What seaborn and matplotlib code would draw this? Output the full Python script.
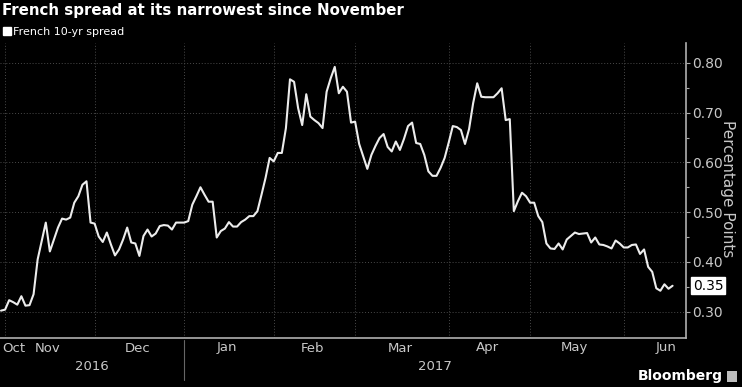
import numpy as np
import pandas as pd
import matplotlib
matplotlib.use("Agg")
import matplotlib.pyplot as plt
import seaborn as sns
from matplotlib.lines import Line2D
from matplotlib.patches import Rectangle
from matplotlib.transforms import blended_transform_factory

# ---------------- data ----------------
start_date = "2016-10-31"
spread = [
    0.302, 0.304, 0.323, 0.319, 0.314, 0.331, 0.312, 0.313, 0.335, 0.405,
    0.442, 0.479, 0.421, 0.445, 0.469, 0.487, 0.485, 0.489, 0.519, 0.532,
    0.555, 0.562, 0.479, 0.477, 0.451, 0.440, 0.459, 0.435, 0.413, 0.425,
    0.445, 0.469, 0.439, 0.437, 0.412, 0.452, 0.465, 0.451, 0.457, 0.472,
    0.474, 0.473, 0.465, 0.479, 0.479, 0.479, 0.482, 0.515, 0.532, 0.550,
    0.535, 0.521, 0.521, 0.449, 0.462, 0.467, 0.480, 0.471, 0.471, 0.480,
    0.485, 0.492, 0.492, 0.502, 0.535, 0.569, 0.609, 0.602, 0.619, 0.619,
    0.669, 0.767, 0.762, 0.709, 0.675, 0.737, 0.692, 0.685, 0.679, 0.669,
    0.742, 0.769, 0.792, 0.739, 0.752, 0.742, 0.680, 0.682, 0.637, 0.612,
    0.587, 0.615, 0.633, 0.649, 0.657, 0.631, 0.622, 0.642, 0.625, 0.647,
    0.673, 0.680, 0.639, 0.637, 0.615, 0.582, 0.573, 0.573, 0.589, 0.609,
    0.640, 0.673, 0.671, 0.665, 0.637, 0.667, 0.719, 0.759, 0.732, 0.731,
    0.731, 0.731, 0.739, 0.749, 0.685, 0.687, 0.502, 0.522, 0.539, 0.532,
    0.519, 0.519, 0.492, 0.480, 0.437, 0.427, 0.426, 0.437, 0.425, 0.445,
    0.452, 0.459, 0.456, 0.457, 0.458, 0.439, 0.449, 0.435, 0.434, 0.431,
    0.427, 0.443, 0.437, 0.429, 0.429, 0.434, 0.435, 0.416, 0.425, 0.390,
    0.380, 0.347, 0.342, 0.355, 0.346, 0.352,
]
month_starts = ["2016-11-01", "2016-12-01", "2017-01-01", "2017-02-01",
                "2017-03-01", "2017-04-01", "2017-05-01", "2017-06-01", "2017-07-01"]
month_labels = ["Nov", "Dec", "Jan", "Feb", "Mar", "Apr", "May", "Jun"]
first_label = "Oct"
year_labels = ["2016", "2017"]
y_ticks = [0.30, 0.40, 0.50, 0.60, 0.70, 0.80]
y_minor = [0.35, 0.45, 0.55, 0.65, 0.75]
title = "French spread at its narrowest since November"
series_name = "French 10-yr spread"
y_label = "Percentage Points"

# ---------------- figure ----------------
W, H = 742, 387
sns.set_theme(style="dark")
plt.rcParams["font.family"] = ["DejaVu Sans"]
fig = plt.figure(figsize=(W / 100, H / 100), dpi=100, facecolor="black")
ax = fig.add_axes([0.0, 1 - 338 / H, 686 / W, (338 - 43) / H])
ax.set_facecolor("black")

df = pd.DataFrame({"day": np.arange(len(spread)), "spread": spread})
sns.lineplot(data=df, x="day", y="spread", ax=ax, color="#ececec", linewidth=1.5)

ax.set_xlim(-0.25, 168.3)
ax.set_ylim(0.247, 0.84)

grid_col = "#4a4a4a"
tick_col = "#c8c8c8"

# y axis on right
ax.yaxis.tick_right()
ax.yaxis.set_label_position("right")
ax.set_yticks(y_ticks)
ax.set_yticklabels([f"{v:.2f}" for v in y_ticks])
ax.set_yticks(y_minor, minor=True)
ax.tick_params(axis="y", which="major", colors="#aaaaaa", labelcolor=tick_col,
               labelsize=10, length=3, width=0.8, pad=1.5)
ax.tick_params(axis="y", which="minor", colors="#aaaaaa", length=2, width=0.8)
ax.set_ylabel(y_label, rotation=270, color=tick_col, fontsize=11, va="center")
ax.yaxis.set_label_coords(728 / 686, 0.505)

# x axis: business-day positions of month starts
ms_idx = np.busday_count(start_date, month_starts)
ax.set_xticks(ms_idx[:-1])
ax.set_xticklabels([])
ax.tick_params(axis="x", colors="#aaaaaa", length=4, width=0.8, direction="in")
ax.set_xlabel("")

ax.grid(True, which="major", color=grid_col, linestyle=(0, (1, 2)), linewidth=0.7)

for s in ["left", "top"]:
    ax.spines[s].set_visible(False)
for s in ["right", "bottom"]:
    ax.spines[s].set_color("#b0b0b0")
    ax.spines[s].set_linewidth(1.2)

tr = blended_transform_factory(ax.transData, fig.transFigure)
y_month = 1 - 348 / H
y_year = 1 - 366 / H
lab_kw = dict(color=tick_col, fontsize=9.5, va="center")
fig.text(2 / W, y_month, first_label, ha="left", **lab_kw)
for k, lab in enumerate(month_labels):
    cx = (ms_idx[k] + ms_idx[k + 1]) / 2 - 0.5
    ax.text(cx, y_month, lab, ha="center", transform=tr, **lab_kw)

xl = ax.get_xlim()
jan = ms_idx[2]
ax.text((xl[0] + jan) / 2, y_year, year_labels[0], ha="center", transform=tr, **lab_kw)
ax.text((jan + xl[1]) / 2, y_year, year_labels[1], ha="center", transform=tr, **lab_kw)
ax.add_line(Line2D([jan, jan], [1 - 340 / H, 1 - 380 / H], transform=tr,
                   color="#666666", linewidth=0.8, clip_on=False))

# last value box
ax.annotate(f"{spread[-1]:.2f}", xy=(1, spread[-1]), xycoords=("axes fraction", "data"),
            xytext=(5, 0), textcoords="offset points", va="center", ha="left",
            fontsize=10, color="black",
            bbox=dict(boxstyle="square,pad=0.12", fc="white", ec="white"))

# title & legend
fig.text(2 / W, 1 - 10 / H, title, ha="left", va="center", fontsize=10.8,
         weight="bold", color="white")
handle = Line2D([], [], marker="s", color="white", linestyle="None", markersize=5.5)
fig.legend(handles=[handle], labels=[series_name], loc="center left",
           bbox_to_anchor=(3 / W, 1 - 32 / H), frameon=False, fontsize=8,
           labelcolor="white", handletextpad=0.1, handlelength=0.8, borderpad=0,
           borderaxespad=0)

# Bloomberg mark
fig.text(723 / W, 1 - 376 / H, "Bloomberg", ha="right", va="center",
         fontsize=10, weight="bold", color="white")
fig.patches.append(Rectangle((727 / W, 1 - 382 / H), 10 / W, 11 / H,
                             transform=fig.transFigure, fc="#bdbdbd", ec="none"))

fig.savefig("out.png", dpi=100, facecolor="black")
